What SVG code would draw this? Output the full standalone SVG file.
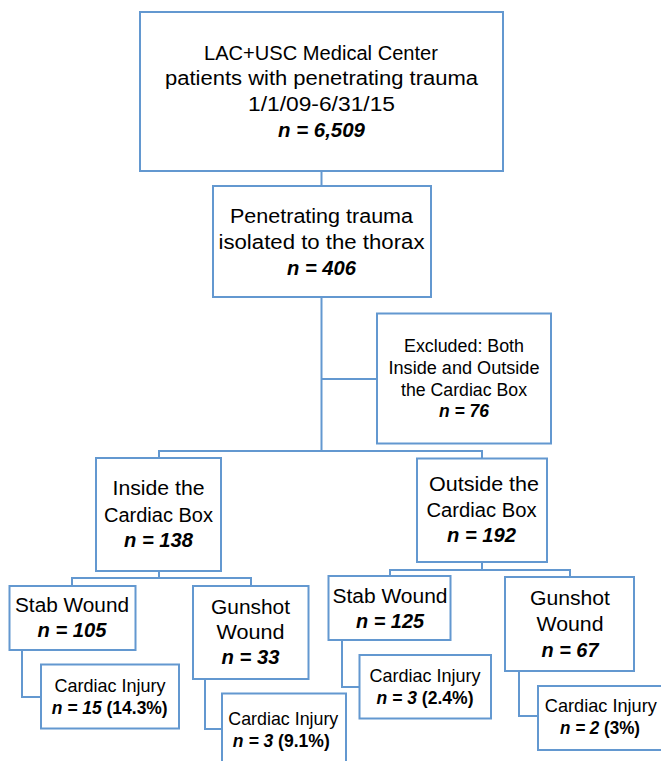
<svg xmlns="http://www.w3.org/2000/svg" width="661" height="761" viewBox="0 0 661 761">
<style>
rect.box{fill:#ffffff;stroke:#6398D0;stroke-width:2}
.conn line{stroke:#6398D0;stroke-width:2;fill:none}
text{font-family:"Liberation Sans",Arial,sans-serif;fill:#000;text-anchor:middle}
.t{font-size:19.5px}
.s{font-size:18.5px}
.x{font-size:18px}
.n{font-weight:bold;font-style:italic}
.b{font-weight:bold}
</style>
<rect width="661" height="761" fill="#ffffff"/>
<g id="connectors" class="conn">
<line x1="321.5" y1="171" x2="321.5" y2="186"/>
<line x1="321.5" y1="297" x2="321.5" y2="451"/>
<line x1="321.5" y1="379" x2="377" y2="379"/>
<line x1="158" y1="451" x2="483" y2="451"/>
<line x1="159" y1="450" x2="159" y2="458"/>
<line x1="482" y1="450" x2="482" y2="458"/>
<line x1="159" y1="571" x2="159" y2="578"/>
<line x1="71" y1="578" x2="252" y2="578"/>
<line x1="72" y1="577" x2="72" y2="586"/>
<line x1="251" y1="577" x2="251" y2="586"/>
<line x1="482" y1="562" x2="482" y2="570"/>
<line x1="389" y1="570" x2="571" y2="570"/>
<line x1="390" y1="569" x2="390" y2="576"/>
<line x1="570" y1="569" x2="570" y2="577"/>
<line x1="22" y1="650" x2="22" y2="697"/>
<line x1="21" y1="697" x2="41" y2="697"/>
<line x1="205" y1="679" x2="205" y2="729"/>
<line x1="204" y1="729" x2="222" y2="729"/>
<line x1="342" y1="640" x2="342" y2="687"/>
<line x1="341" y1="687" x2="359" y2="687"/>
<line x1="519" y1="671" x2="519" y2="716"/>
<line x1="518" y1="716" x2="538" y2="716"/>
</g>
<g id="n-all">
<rect class="box" x="140" y="12" width="363" height="159"/>
<text class="t" x="321" y="60" textLength="234" lengthAdjust="spacingAndGlyphs">LAC+USC Medical Center</text>
<text class="t" x="321.5" y="85" textLength="313" lengthAdjust="spacingAndGlyphs">patients with penetrating trauma</text>
<text class="t" x="321.5" y="110.5" textLength="147" lengthAdjust="spacingAndGlyphs">1/1/09-6/31/15</text>
<text class="t n" x="321.5" y="136.5" textLength="87" lengthAdjust="spacingAndGlyphs">n = 6,509</text>
</g>
<g id="n-thorax">
<rect class="box" x="213" y="186" width="218" height="111"/>
<text class="t" x="321.5" y="222.5" textLength="183" lengthAdjust="spacingAndGlyphs">Penetrating trauma</text>
<text class="t" x="321.5" y="248.5" textLength="206" lengthAdjust="spacingAndGlyphs">isolated to the thorax</text>
<text class="t n" x="321.5" y="274.5" textLength="69" lengthAdjust="spacingAndGlyphs">n = 406</text>
</g>
<g id="n-excluded">
<rect class="box" x="377" y="313.5" width="174" height="130"/>
<text class="x" x="464" y="352" textLength="120" lengthAdjust="spacingAndGlyphs">Excluded: Both</text>
<text class="x" x="464" y="373.5" textLength="151" lengthAdjust="spacingAndGlyphs">Inside and Outside</text>
<text class="x" x="464" y="395.5" textLength="126" lengthAdjust="spacingAndGlyphs">the Cardiac Box</text>
<text class="x n" x="464" y="417" textLength="50" lengthAdjust="spacingAndGlyphs">n = 76</text>
</g>
<g id="n-inside">
<rect class="box" x="96" y="458" width="125" height="113"/>
<text class="t" x="158.5" y="495" textLength="92" lengthAdjust="spacingAndGlyphs">Inside the</text>
<text class="t" x="158.5" y="521.5" textLength="109" lengthAdjust="spacingAndGlyphs">Cardiac Box</text>
<text class="t n" x="158.5" y="546.5" textLength="69" lengthAdjust="spacingAndGlyphs">n = 138</text>
</g>
<g id="n-outside">
<rect class="box" x="417" y="458.5" width="130" height="103.5"/>
<text class="t" x="484" y="491" textLength="110" lengthAdjust="spacingAndGlyphs">Outside the</text>
<text class="t" x="481.5" y="517" textLength="110" lengthAdjust="spacingAndGlyphs">Cardiac Box</text>
<text class="t n" x="481.5" y="542" textLength="69" lengthAdjust="spacingAndGlyphs">n = 192</text>
</g>
<g id="n-stab-in">
<rect class="box" x="9.5" y="586" width="126" height="64"/>
<text class="t" x="72" y="612" textLength="114" lengthAdjust="spacingAndGlyphs">Stab Wound</text>
<text class="t n" x="72" y="637" textLength="69" lengthAdjust="spacingAndGlyphs">n = 105</text>
</g>
<g id="n-gun-in">
<rect class="box" x="193" y="586" width="115.5" height="93"/>
<text class="t" x="250.5" y="613.5" textLength="79" lengthAdjust="spacingAndGlyphs">Gunshot</text>
<text class="t" x="250.5" y="639" textLength="68" lengthAdjust="spacingAndGlyphs">Wound</text>
<text class="t n" x="250.5" y="664" textLength="58" lengthAdjust="spacingAndGlyphs">n = 33</text>
</g>
<g id="n-ci-stab-in">
<rect class="box" x="41" y="664.5" width="138" height="64"/>
<text class="s" x="110" y="691.5" textLength="111" lengthAdjust="spacingAndGlyphs">Cardiac Injury</text>
<text class="s b" x="109.7" y="713.5" textLength="116" lengthAdjust="spacingAndGlyphs"><tspan class="n">n = 15</tspan> (14.3%)</text>
</g>
<g id="n-ci-gun-in">
<rect class="box" x="222" y="693.5" width="124" height="75"/>
<text class="s" x="283.3" y="725" textLength="110" lengthAdjust="spacingAndGlyphs">Cardiac Injury</text>
<text class="s b" x="281.3" y="747" textLength="97" lengthAdjust="spacingAndGlyphs"><tspan class="n">n = 3</tspan> (9.1%)</text>
</g>
<g id="n-stab-out">
<rect class="box" x="328.5" y="576" width="122" height="64"/>
<text class="t" x="390" y="602.5" textLength="115" lengthAdjust="spacingAndGlyphs">Stab Wound</text>
<text class="t n" x="390" y="628" textLength="68" lengthAdjust="spacingAndGlyphs">n = 125</text>
</g>
<g id="n-gun-out">
<rect class="box" x="505" y="577" width="129" height="94"/>
<text class="t" x="570" y="605" textLength="80" lengthAdjust="spacingAndGlyphs">Gunshot</text>
<text class="t" x="570" y="631" textLength="67" lengthAdjust="spacingAndGlyphs">Wound</text>
<text class="t n" x="570" y="656.5" textLength="57" lengthAdjust="spacingAndGlyphs">n = 67</text>
</g>
<g id="n-ci-stab-out">
<rect class="box" x="359.5" y="655" width="131.5" height="63.5"/>
<text class="s" x="425" y="681.5" textLength="111" lengthAdjust="spacingAndGlyphs">Cardiac Injury</text>
<text class="s b" x="425" y="703.5" textLength="97" lengthAdjust="spacingAndGlyphs"><tspan class="n">n = 3</tspan> (2.4%)</text>
</g>
<g id="n-ci-gun-out">
<rect class="box" x="538" y="686" width="128" height="64"/>
<text class="s" x="600.8" y="712" textLength="112" lengthAdjust="spacingAndGlyphs">Cardiac Injury</text>
<text class="s b" x="600" y="734" textLength="80" lengthAdjust="spacingAndGlyphs"><tspan class="n">n = 2</tspan> (3%)</text>
</g>
</svg>
